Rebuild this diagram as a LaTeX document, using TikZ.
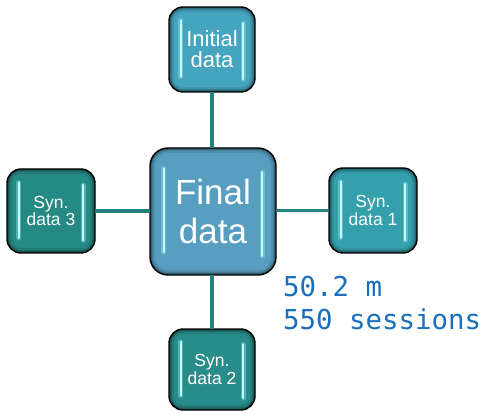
\documentclass[tikz,border=0pt]{standalone}
\usepackage{fontspec}
\setmainfont{Liberation Sans}
\newfontfamily\monofont{DejaVu Sans Mono}
\usetikzlibrary{calc}

\definecolor{cInit}{HTML}{46A5BE}
\definecolor{cFinal}{HTML}{589EC0}
\definecolor{cSynA}{HTML}{34A0AC}
\definecolor{cSynB}{HTML}{288C8A}
\definecolor{cSynC}{HTML}{268A84}
\definecolor{cLink}{HTML}{23827E}
\definecolor{cGlow}{HTML}{7FE3EE}
\definecolor{cShine}{HTML}{C8FAFC}
\definecolor{cNote}{HTML}{1B6FBE}

\tikzset{
  boxbase/.style={inner sep=0pt, outer sep=0pt, rectangle},
  boxedge/.style={draw=black, line width=1.4pt},
  boxtext/.style={text=white, align=center, inner sep=0pt},
  link/.style={draw=cLink, line width=3.6pt},
  glowbar/.style={line cap=round, draw=cGlow, line width=5pt, opacity=0.45},
  shinebar/.style={line cap=round, draw=cShine, line width=2pt},
  note/.style={text=cNote, inner sep=0pt, anchor=base west,
    font=\monofont\fontsize{27.4}{30}\selectfont},
  bigtext/.style={font=\fontsize{35}{39}\selectfont},
  midtext/.style={font=\fontsize{22}{21}\selectfont},
  smalltext/.style={font=\fontsize{17.5}{15.5}\selectfont},
}

% #1 name, #2 x, #3 y, #4 width, #5 height, #6 colour, #7 corner radius,
% #8 text style, #9 text
\newcommand\glossbox[9]{%
  \node[boxbase, minimum width=#4, minimum height=#5, rounded corners=#7,
        fill=#6!55!black] (#1) at (#2,#3) {};
  \fill[#6!75!black, rounded corners=#7-1.5]
    ($(#1.south west)+(1.5,-1.5)$) rectangle ($(#1.north east)+(-1.5,1.5)$);
  \fill[#6!90!black, rounded corners=#7-3]
    ($(#1.south west)+(3,-3)$) rectangle ($(#1.north east)+(-3,3)$);
  \fill[#6, rounded corners=#7-5]
    ($(#1.south west)+(5,-5)$) rectangle ($(#1.north east)+(-5,5)$);
  \pgfmathsetmacro\barin{8+0.045*#4}
  \foreach \bs in {glowbar,shinebar}{
    \draw[\bs] ($(#1.north west)+(\barin,0.16*#5)$) -- ($(#1.south west)+(\barin,-0.18*#5)$);
    \draw[\bs] ($(#1.north east)+(-\barin,0.19*#5)$) -- ($(#1.south east)+(-\barin,-0.15*#5)$);
  }
  \draw[boxedge, rounded corners=#7] (#1.south west) rectangle (#1.north east);
  \node[boxtext, #8] (#1-label) at (#1.center) {#9};
}

\begin{document}
\begin{tikzpicture}[x=1pt, y=-1pt]
  \useasboundingbox[fill=white] (0,0) rectangle (484,411);

  \glossbox{init}{212}{49.5}{86}{85}{cInit}{14}{midtext}{Initial\\data}
  \glossbox{final}{213}{211.5}{126}{127}{cFinal}{18}{bigtext}{Final\\data}
  \glossbox{syn3}{51}{211}{88}{84}{cSynC}{14}{smalltext}{Syn.\\data 3}
  \glossbox{syn1}{373}{210.5}{88}{85}{cSynA}{14}{smalltext}{Syn.\\data 1}
  \glossbox{syn2}{212}{369.5}{86}{81}{cSynB}{14}{smalltext}{Syn.\\data 2}

  % connectors between the hub and the outer boxes
  \draw[link] (init.south) -- (init.south |- final.north);
  \draw[link] (final.south -| syn2.north) -- (syn2.north);
  \draw[link] (syn3.east) -- (syn3.east -| final.west);
  \draw[link] (syn1.west -| final.east) -- (syn1.west);

  \node[note] (size) at (283,297) {50.2 m};
  \node[note] (sessions) at (283,329) {550 sessions};
\end{tikzpicture}
\end{document}
